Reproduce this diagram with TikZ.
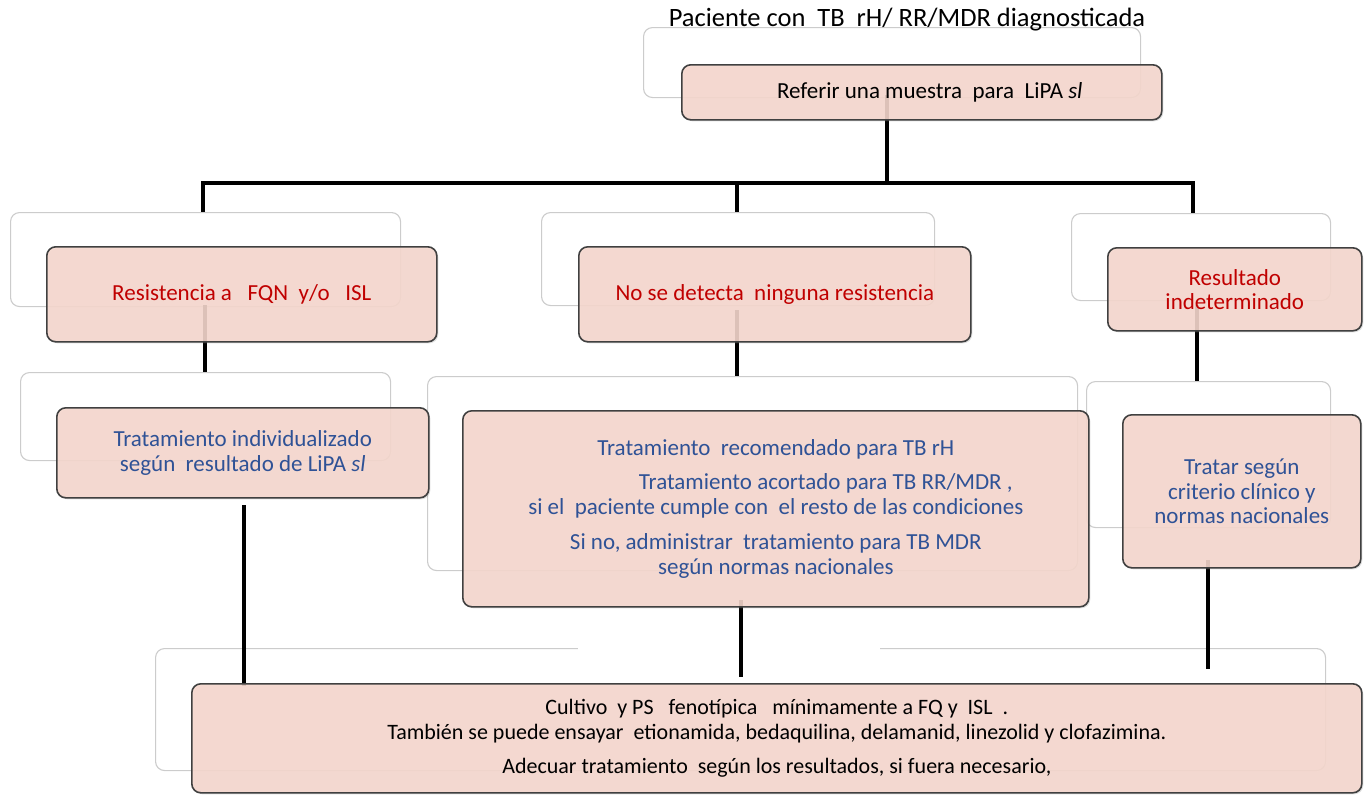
\documentclass[tikz,border=0pt]{standalone}
\usepackage{fontspec}
\setmainfont{Carlito}
\usetikzlibrary{shadows}
\definecolor{pinkfill}{RGB}{247,216,206}
\definecolor{redtxt}{RGB}{192,0,0}
\definecolor{bluetxt}{RGB}{47,82,150}
\tikzset{
  backcard/.style={draw=black!20, line width=1.1pt, fill=white, rounded corners=9pt, inner sep=0pt, anchor=north west},
  pinkbox/.style={draw=black!75, line width=1.6pt, fill=pinkfill, fill opacity=0.88, text opacity=1, rounded corners=9pt, inner sep=0pt, anchor=north west, align=center,
    drop shadow={opacity=0.25, shadow xshift=1.5pt, shadow yshift=-1.5pt}},
  conn/.style={line width=4.2pt, black},
  redt/.style={text=redtxt, font=\fontsize{23}{24}\selectfont},
  bluet/.style={text=bluetxt, font=\fontsize{23}{24.5}\selectfont},
}
\begin{document}
\begin{tikzpicture}[x=1pt, y=-1pt]
\useasboundingbox (0,0) rectangle (1365,795);
% back cards
\node[backcard, minimum width=497, minimum height=70] (b0) at (643,27) {};
\node[backcard, minimum width=390, minimum height=94] (b1) at (10,212) {};
\node[backcard, minimum width=370, minimum height=88] (b2) at (20,372) {};
\node[backcard, minimum width=393, minimum height=93] (b3) at (541,212) {};
\node[backcard, minimum width=650, minimum height=194] (b4) at (427,376) {};
\node[backcard, minimum width=259, minimum height=87] (b5) at (1071,213) {};
\node[backcard, minimum width=244, minimum height=146] (b6) at (1086,381) {};
\node[backcard, minimum width=1170, minimum height=122] (b7) at (155,648) {};
\draw[white, line width=3pt] (578,648) -- (880,648);
% title
\node[font=\fontsize{26.5}{30}\selectfont] (title) at (907,20) {Paciente con\ \ TB\ \ rH/ RR/MDR diagnosticada};
% connectors (behind the boxes)
\coordinate (j0) at (887,183);
\coordinate (hL) at (203,183);
\coordinate (hM) at (737,183);
\coordinate (hR) at (1193,183);
\coordinate (s0) at (887,95);
\coordinate (s1) at (205,305);
\coordinate (s3) at (737,310);
\coordinate (s5) at (1197,305);
\coordinate (c1) at (244,505);
\coordinate (c1e) at (244,686);
\coordinate (s4) at (741,600);
\coordinate (c4e) at (741,677);
\coordinate (s6) at (1208,560);
\coordinate (c6e) at (1208,669);
\draw[conn] (s0) -- (j0);
\draw[conn, line cap=rect] (hL) -- (hR);
\draw[conn] (hL) -- (b1.north -| hL);
\draw[conn] (hM) -- (b3.north -| hM);
\draw[conn] (hR) -- (b5.north -| hR);
\draw[conn] (s1) -- (b2.north -| s1);
\draw[conn] (s3) -- (b4.north -| s3);
\draw[conn] (s5) -- (b6.north -| s5);
\draw[conn] (c1) -- (c1e);
\draw[conn] (s4) -- (c4e);
\draw[conn] (s6) -- (c6e);
% pink boxes
\node[pinkbox, minimum width=480, minimum height=55, font=\fontsize{23}{26}\selectfont] (p0) at (681,64) {\hspace*{16pt}Referir una muestra\ \ para\ \ LiPA \textit{sl}};
\node[pinkbox, minimum width=390, minimum height=95, redt] (p1) at (46,246) {Resistencia a\ \ \ FQN\ \ y/o\ \ \ ISL};
\node[pinkbox, minimum width=372, minimum height=90, bluet] (p2) at (56,407) {Tratamiento individualizado\\según\ \ resultado de LiPA \textit{sl}};
\node[pinkbox, minimum width=392, minimum height=95, redt] (p3) at (578,246) {No se detecta\ \ ninguna resistencia};
\node[pinkbox, minimum width=626, minimum height=196, bluet] (p4) at (462,410) {Tratamiento\ \ recomendado para TB rH\\[10pt]
\hspace*{100pt}Tratamiento acortado para TB RR/MDR ,\\
si el\ \ paciente cumple con\ \ el resto de las condiciones\\[11pt]
Si no, administrar\ \ tratamiento para TB MDR\\
según normas nacionales};
\node[pinkbox, minimum width=254, minimum height=83, redt] (p5) at (1107,247) {Resultado\\indeterminado};
\node[pinkbox, minimum width=238, minimum height=153, bluet] (p6) at (1122,414) {Tratar según\\criterio clínico y\\normas nacionales};
\node[pinkbox, minimum width=1170, minimum height=109, font=\fontsize{22}{25}\selectfont] (p7) at (191,683) {Cultivo\ \ y PS\ \ \ fenotípica\ \ \ mínimamente a FQ y\ \ ISL\ \ .\\
También se puede ensayar\ \ etionamida, bedaquilina, delamanid, linezolid y clofazimina.\\[9pt]
Adecuar tratamiento\ \ según los resultados, si fuera necesario,};
\end{tikzpicture}
\end{document}
